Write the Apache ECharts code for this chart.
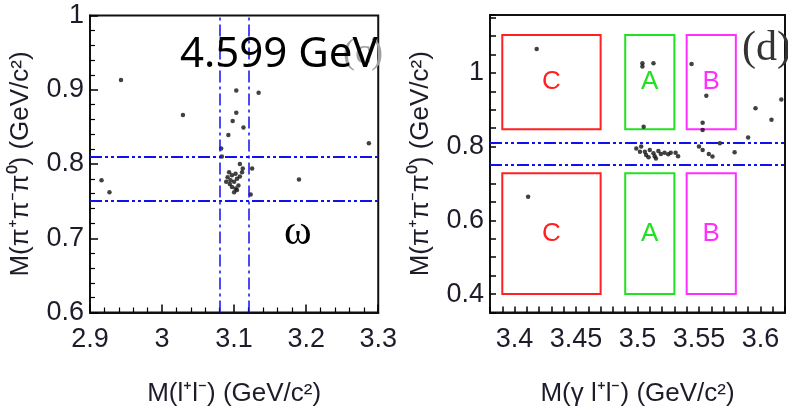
<!DOCTYPE html>
<html><head><meta charset="utf-8">
<script src="https://cdn.jsdelivr.net/npm/echarts@6/dist/echarts.min.js"></script>
<style>html,body{margin:0;padding:0;background:#fff;width:788px;height:419px;overflow:hidden}
#l{position:absolute;left:0;top:0;width:400px;height:419px}
#r{position:absolute;left:400px;top:0;width:388px;height:419px}</style>
</head><body><div id="l"></div><div id="r"></div>
<script>
// ---------- data ----------
const leftX = [2.943,3.029,3.103,3.134,3.103,3.098,3.113,3.092,3.287,3.082,3.083,2.916,2.927,3.190,3.125,3.123,
  3.108,3.112,3.093,3.097,3.102,3.091,3.095,3.100,3.104,3.106,3.097,3.102,3.111,3.108,3.094,3.104,3.100,3.089];
const leftY = [0.913,0.866,0.899,0.896,0.869,0.858,0.849,0.839,0.828,0.821,0.810,0.778,0.762,0.779,0.794,0.759,
  0.800,0.794,0.789,0.785,0.787,0.782,0.778,0.776,0.780,0.771,0.769,0.767,0.789,0.783,0.773,0.765,0.762,0.776];
const rightX = [3.418,3.504,3.504,3.513,3.544,3.556,3.596,3.617,3.609,3.505,3.553,3.553,3.590,3.567,3.579,3.411,
  3.499,3.503,3.506,3.507,3.510,3.513,3.514,3.517,3.519,3.522,3.525,3.527,3.531,3.533,3.509,3.502,3.515,
  3.550,3.553,3.558,3.561];
const rightY = [1.065,1.026,1.017,1.026,1.024,0.938,0.904,0.928,0.873,0.854,0.865,0.845,0.825,0.809,0.785,0.664,
  0.795,0.800,0.786,0.777,0.791,0.782,0.774,0.788,0.780,0.783,0.779,0.783,0.783,0.774,0.771,0.786,0.768,
  0.800,0.791,0.780,0.773];
const leftHLines = [0.807, 0.750];
const leftVLines = [3.08, 3.12];
const rightHLines = [0.809, 0.752];
const boxNames = ['C','A','B'];
const boxX0 = [3.39, 3.49, 3.54];
const boxX1 = [3.47, 3.53, 3.58];
const boxTopY = [0.847, 1.103];
const boxBotY = [0.40, 0.728];
const rightXLabelStep = 5;   // label every 0.05
const rightYLabelStep = 20;  // label every 0.2

// ---------- styles ----------
const FONT = "'Liberation Sans',Arial,sans-serif";
const TXT = '#1c1c2a';
const BLUE = '#1010f0';
const boxColors = ['#ff2020','#22e022','#ff30ff'];

function zip(a,b){ return a.map((v,i)=>[v,b[i]]); }
function lbl(extra){ return Object.assign({show:true, fontFamily:FONT, fontSize:27, color:TXT}, extra||{}); }
function nm(){ return {fontFamily:FONT, fontSize:26, color:TXT}; }
function tick(len){ return {show:true, inside:true, length:len, lineStyle:{color:'#000', width:1.5}}; }
function minor(){ return {show:true, splitNumber:5, length:5, lineStyle:{color:'#000', width:1.2}}; }

const boxAreas = [];
boxNames.forEach((n,i)=>{
  [boxTopY, boxBotY].forEach(yy=>{
    boxAreas.push([
      {name:n, xAxis:boxX0[i], yAxis:yy[0],
       itemStyle:{color:'rgba(0,0,0,0)', borderColor:boxColors[i], borderWidth:2},
       label:{show:true, position:'inside', color:boxColors[i], fontFamily:FONT, fontSize:26}},
      {xAxis:boxX1[i], yAxis:yy[1]}
    ]);
  });
});

const leftOption = {
  animation:false,
  backgroundColor:'#fff',
  grid:{left:88, top:15.5, width:298, height:297, show:true, borderColor:'#111', borderWidth:2},
  xAxis:{type:'value', min:2.9, max:3.3, interval:0.1,
    axisLine:{show:true, lineStyle:{color:'#111', width:2}}, splitLine:{show:false},
    axisTick:tick(8), minorTick:minor(),
    axisLabel:lbl({margin:14}),
    name:'M(l⁺l⁻) (GeV/c²)', nameLocation:'middle', nameGap:68, nameTextStyle:nm()},
  yAxis:{type:'value', min:0.6, max:1, interval:0.1,
    axisLine:{show:true, lineStyle:{color:'#111', width:2}}, splitLine:{show:false},
    axisTick:tick(8), minorTick:minor(),
    axisLabel:lbl({margin:6}),
    name:'M(π⁺π⁻π⁰) (GeV/c²)', nameLocation:'middle', nameGap:56, nameTextStyle:nm()},
  series:[{type:'scatter', data:zip(leftX,leftY), symbol:'circle', symbolSize:4.5, itemStyle:{color:'#111'},
    markLine:{silent:true, symbol:'none', label:{show:false},
      data:[
        ...leftHLines.map(v=>({yAxis:v, lineStyle:{color:BLUE, width:2, type:[12,3,3,3,3,3]}})),
        ...leftVLines.map(v=>({xAxis:v, lineStyle:{color:BLUE, width:1.5, type:[12,4,3,4]}}))
      ]}}],
  graphic:[
    {type:'text', x:343, y:36, z:1, style:{text:'(c)', font:"36px 'Liberation Serif'", fill:'#a0a0a0'}},
    {type:'text', x:180, y:34, z:10, style:{text:'4.599 GeV', font:"42px 'Noto Sans'", fill:'#000'}},
    {type:'text', x:284, y:212, z:10, style:{text:'ω', font:"42px 'Liberation Serif'", fill:'#000'}}
  ]
};

const rightOption = {
  animation:false,
  backgroundColor:'#fff',
  grid:{left:88.3, top:15, width:298, height:297.5, show:true, borderColor:'#111', borderWidth:2},
  xAxis:{type:'value', min:3.38, max:3.62, interval:0.01,
    axisLine:{show:true, lineStyle:{color:'#111', width:2}}, splitLine:{show:false},
    axisTick:tick(6),
    axisLabel:lbl({margin:14, hideOverlap:false,
      formatter:function(v){ const c=Math.round(v*100); return c%rightXLabelStep===0 ? String(c/100) : ''; }}),
    name:'M(γ l⁺l⁻) (GeV/c²)', nameLocation:'middle', nameGap:68, nameTextStyle:nm()},
  yAxis:{type:'value', min:0.35, max:1.157, interval:0.05,
    axisLine:{show:true, lineStyle:{color:'#111', width:2}}, splitLine:{show:false},
    axisTick:tick(6),
    axisLabel:lbl({margin:6, hideOverlap:false,
      formatter:function(v){ const c=Math.round(v*100); return (c>=40 && c<=100 && c%rightYLabelStep===0) ? String(c/100) : ''; }}),
    name:'M(π⁺π⁻π⁰) (GeV/c²)', nameLocation:'middle', nameGap:56, nameTextStyle:nm()},
  series:[{type:'scatter', data:zip(rightX,rightY), symbol:'circle', symbolSize:4.5, itemStyle:{color:'#111'},
    markLine:{silent:true, symbol:'none', label:{show:false},
      data:rightHLines.map(v=>({yAxis:v, lineStyle:{color:BLUE, width:2, type:[12,3,3,3,3,3]}}))},
    markArea:{silent:true, data:boxAreas}}],
  graphic:[
    {type:'text', x:342, y:28, z:10, style:{text:'(d)', font:"42px 'Liberation Serif'", fill:'#333'}}
  ]
};

echarts.init(document.getElementById('l')).setOption(leftOption);
echarts.init(document.getElementById('r')).setOption(rightOption);
</script></body></html>
